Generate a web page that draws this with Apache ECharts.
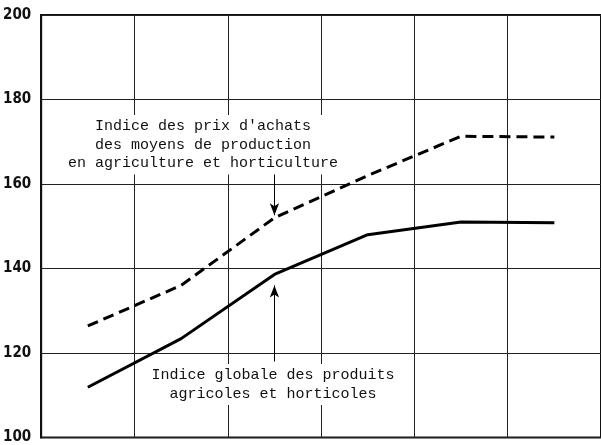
<!DOCTYPE html>
<html lang="fr">
<head>
  <meta charset="UTF-8">
  <script src="https://cdn.jsdelivr.net/npm/echarts@6/dist/echarts.min.js"></script>
  <title>Indices</title>
  <style>
    html, body { margin: 0; padding: 0; background: #fff; }
  </style>
</head>
<body>
  <div id="main" style="width: 601px;height:445px;"></div>
  <script type="text/javascript">
    // donnees
    var periodes = ['1', '2', '3', '4', '5', '6'];
    var prixAchats = [126.4, 136, 152, 162, 171.3, 171.1];
    var produitsAgricoles = [111.9, 123.4, 138.6, 148, 151, 150.8];
    var yTicks = [100, 120, 140, 160, 180, 200];

    var myChart = echarts.init(document.getElementById('main'));

    var mono = '"Liberation Mono", "DejaVu Sans Mono", monospace';

    var option = {
      backgroundColor: '#fff',
      animation: false,
      grid: {
        left: 39, top: 15, width: 566, height: 427,
        show: true, borderColor: '#111', borderWidth: 2
      },
      xAxis: {
        type: 'category',
        data: periodes,
        boundaryGap: true,
        axisLine: { show: false },
        axisTick: { show: false },
        axisLabel: { show: false },
        splitLine: { show: true, lineStyle: { color: '#222', width: 1 } }
      },
      yAxis: {
        type: 'value',
        min: yTicks[0],
        max: yTicks[yTicks.length - 1],
        interval: 20,
        axisLine: { show: true, lineStyle: { color: '#111', width: 2 } },
        axisTick: { show: false },
        axisLabel: {
          margin: 10,
          color: '#111',
          fontSize: 15,
          fontWeight: 'bold',
          fontFamily: '"Liberation Sans Narrow", "DejaVu Sans Condensed", sans-serif'
        },
        splitLine: { show: true, lineStyle: { color: '#222', width: 1 } }
      },
      series: [
        {
          name: 'prix achats',
          type: 'line',
          data: prixAchats,
          symbol: 'none',
          lineStyle: { color: '#000', width: 3, type: [11, 6] },
          markLine: {
            silent: true,
            symbol: ['none', 'arrow'],
            symbolSize: [7, 12],
            label: { show: false },
            lineStyle: { color: '#000', width: 1, type: 'solid' },
            data: [[{ coord: ['3', 162.5] }, { coord: ['3', 152.6] }]]
          }
        },
        {
          name: 'produits',
          type: 'line',
          data: produitsAgricoles,
          symbol: 'none',
          lineStyle: { color: '#000', width: 3, type: 'solid' },
          markLine: {
            silent: true,
            symbol: ['none', 'arrow'],
            symbolSize: [7, 12],
            label: { show: false },
            lineStyle: { color: '#000', width: 1, type: 'solid' },
            data: [[{ coord: ['3', 118] }, { coord: ['3', 136] }]]
          }
        }
      ],
      graphic: [
        {
          type: 'text', x: 203, y: 115, z: 100,
          style: {
            text: "Indice des prix d'achats\ndes moyens de production\nen agriculture et horticulture",
            font: '15px ' + mono, fill: '#111', align: 'center', verticalAlign: 'top',
            lineHeight: 18.5, backgroundColor: '#fff', padding: [2, 3]
          }
        },
        {
          type: 'text', x: 273, y: 364, z: 100,
          style: {
            text: 'Indice globale des produits\nagricoles et horticoles',
            font: '15px ' + mono, fill: '#111', align: 'center', verticalAlign: 'top',
            lineHeight: 18.5, backgroundColor: '#fff', padding: [2, 3]
          }
        }
      ]
    };
    myChart.setOption(option);
  </script>
</body>
</html>
